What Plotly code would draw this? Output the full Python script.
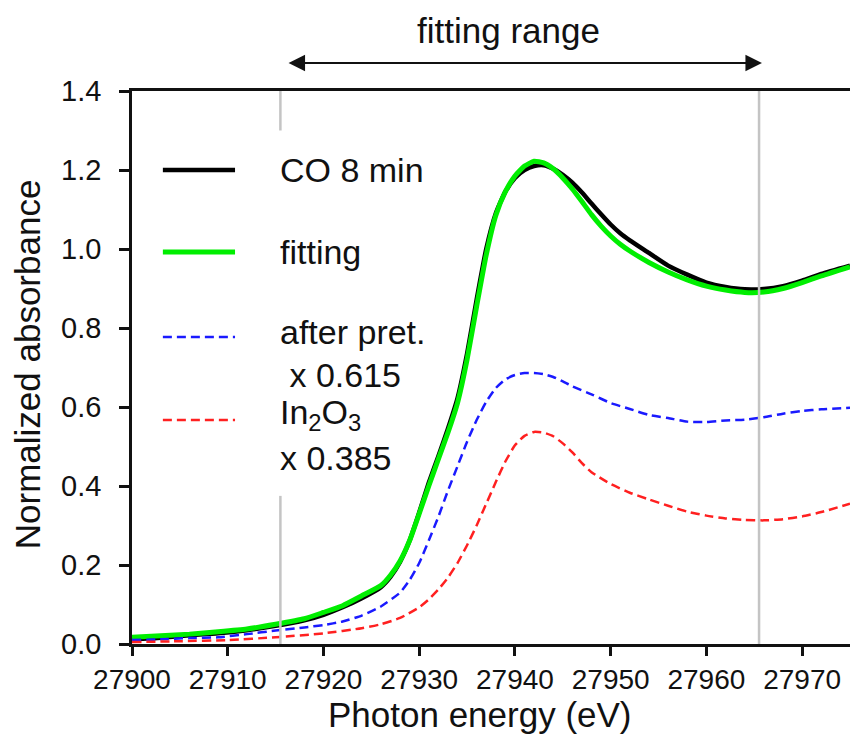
import plotly.graph_objects as go

# ---------------- data ----------------
energy_fit = [27900, 27903, 27906, 27909, 27912, 27915, 27918, 27920, 27922, 27924,
              27926, 27927, 27928, 27929, 27930, 27931, 27932, 27933, 27934, 27935,
              27936, 27937, 27938, 27939, 27940, 27941, 27942, 27943, 27944, 27945,
              27946, 27947, 27948, 27949, 27950, 27951, 27952, 27954, 27956, 27958,
              27960, 27962, 27964, 27966, 27968, 27970, 27972, 27975]

co8min = [0.012, 0.016, 0.022, 0.027, 0.035, 0.046, 0.060, 0.074, 0.093, 0.116,
          0.144, 0.170, 0.208, 0.262, 0.333, 0.408, 0.475, 0.545, 0.622, 0.735,
          0.872, 1.000, 1.090, 1.145, 1.180, 1.200, 1.210, 1.212, 1.203, 1.188,
          1.168, 1.143, 1.115, 1.088, 1.062, 1.040, 1.022, 0.990, 0.958, 0.935,
          0.915, 0.904, 0.898, 0.899, 0.906, 0.920, 0.937, 0.958]

fitting = [0.017, 0.021, 0.025, 0.031, 0.038, 0.050, 0.064, 0.080, 0.097, 0.122,
           0.148, 0.174, 0.210, 0.262, 0.330, 0.400, 0.468, 0.535, 0.610, 0.720,
           0.855, 0.985, 1.085, 1.145, 1.185, 1.210, 1.222, 1.218, 1.203, 1.180,
           1.152, 1.120, 1.087, 1.058, 1.033, 1.012, 0.995, 0.966, 0.942, 0.922,
           0.906, 0.896, 0.890, 0.891, 0.900, 0.915, 0.932, 0.955]

energy_after = [27900, 27903, 27906, 27909, 27912, 27915, 27918, 27920, 27922, 27924,
                27926, 27928, 27929, 27930, 27931, 27932, 27933, 27934, 27935, 27936,
                27937, 27938, 27939, 27940, 27941, 27942, 27943, 27944, 27945, 27946,
                27948, 27950, 27952, 27954, 27956, 27958, 27960, 27962, 27964, 27966,
                27968, 27970, 27972, 27975]
after_pret = [0.010, 0.012, 0.015, 0.017, 0.025, 0.034, 0.042, 0.048, 0.057, 0.072,
              0.095, 0.130, 0.162, 0.205, 0.262, 0.322, 0.388, 0.450, 0.512, 0.567,
              0.613, 0.648, 0.670, 0.681, 0.686, 0.686, 0.683, 0.676, 0.665, 0.652,
              0.632, 0.610, 0.595, 0.580, 0.572, 0.563, 0.562, 0.566, 0.568, 0.574,
              0.583, 0.590, 0.594, 0.598]

energy_in2o3 = [27900, 27905, 27910, 27915, 27920, 27924, 27926, 27928, 27930, 27931,
                27932, 27933, 27934, 27935, 27936, 27937, 27938, 27939, 27940, 27941,
                27942, 27943, 27944, 27945, 27946, 27947, 27948, 27950, 27952, 27954,
                27956, 27958, 27960, 27962, 27964, 27966, 27968, 27970, 27972, 27975]
in2o3 = [0.005, 0.007, 0.010, 0.017, 0.027, 0.040, 0.050, 0.066, 0.093, 0.113,
         0.138, 0.168, 0.205, 0.250, 0.300, 0.355, 0.410, 0.462, 0.503, 0.527,
         0.537, 0.535, 0.526, 0.508, 0.485, 0.458, 0.435, 0.405, 0.383, 0.366,
         0.350, 0.335, 0.325, 0.318, 0.314, 0.313, 0.316, 0.323, 0.334, 0.355]

x_ticks = [27900, 27910, 27920, 27930, 27940, 27950, 27960, 27970]
y_ticks = [0.0, 0.2, 0.4, 0.6, 0.8, 1.0, 1.2, 1.4]
fit_range = [27915.5, 27965.5]

# ---------------- figure ----------------
FONT = "Liberation Sans, Arial, sans-serif"
SM = dict(shape="spline", smoothing=0.5)
fig = go.Figure()
fig.add_trace(go.Scatter(x=energy_fit, y=co8min, mode="lines",
                         line=dict(color="black", width=4.5, **SM)))
fig.add_trace(go.Scatter(x=energy_fit, y=fitting, mode="lines",
                         line=dict(color="#00ee00", width=5, **SM)))
fig.add_trace(go.Scatter(x=energy_after, y=after_pret, mode="lines",
                         line=dict(color="#1a1aff", width=2.5, dash="9px,5px", **SM)))
fig.add_trace(go.Scatter(x=energy_in2o3, y=in2o3, mode="lines",
                         line=dict(color="#ff2020", width=2.5, dash="9px,5px", **SM)))

shapes = []
gray = "#c4c4c4"
# fitting range markers (left one interrupted by legend)
shapes.append(dict(type="line", xref="x", yref="y", x0=fit_range[0], x1=fit_range[0],
                   y0=1.30, y1=1.4, line=dict(color=gray, width=2.5), layer="above"))
shapes.append(dict(type="line", xref="x", yref="y", x0=fit_range[0], x1=fit_range[0],
                   y0=0.0, y1=0.375, line=dict(color=gray, width=2.5), layer="above"))
shapes.append(dict(type="line", xref="x", yref="y", x0=fit_range[1], x1=fit_range[1],
                   y0=0.0, y1=1.4, line=dict(color=gray, width=2.5), layer="above"))

# legend samples
legend_items = [
    ("black", 4.5, "solid", 0.857),
    ("#00ee00", 5, "solid", 0.709),
    ("#1a1aff", 2.5, "9px,5px", 0.555),
    ("#ff2020", 2.5, "9px,5px", 0.405),
]
for col, w, dash, yp in legend_items:
    shapes.append(dict(type="line", xref="paper", yref="paper", x0=0.043, x1=0.1435,
                       y0=yp, y1=yp, line=dict(color=col, width=w, dash=dash)))

annotations = []
legend_texts = [
    ("CO 8 min", 0.204, 0.857),
    ("fitting", 0.204, 0.709),
    ("after pret.", 0.204, 0.565),
    (" x 0.615", 0.204, 0.486),
    ("In<sub>2</sub>O<sub>3</sub>", 0.204, 0.415),
    ("x 0.385", 0.204, 0.336),
]
for txt, xp, yp in legend_texts:
    annotations.append(dict(text=txt, xref="paper", yref="paper", x=xp, y=yp,
                            xanchor="left", yanchor="middle", showarrow=False,
                            font=dict(family=FONT, size=34, color="#111")))

# fitting range arrow
annotations.append(dict(text="", xref="x", yref="paper", x=fit_range[1] + 0.3, y=1.0506,
                        axref="x", ayref="pixel", ax=fit_range[0] + 0.7, ay=0,
                        showarrow=True, arrowside="end+start", arrowhead=2,
                        arrowsize=1.5, arrowwidth=2.2, arrowcolor="#111",
                        standoff=0, startstandoff=0))
annotations.append(dict(text="fitting range", xref="paper", yref="paper", x=0.524, y=1.110,
                        xanchor="center", yanchor="middle", showarrow=False,
                        font=dict(family=FONT, size=35, color="#111")))
# axis titles
annotations.append(dict(text="Photon energy (eV)", xref="paper", yref="paper",
                        x=0.485, y=-0.127, xanchor="center", yanchor="middle",
                        showarrow=False, font=dict(family=FONT, size=35, color="#111")))
annotations.append(dict(text="Normalized absorbance", xref="paper", yref="paper",
                        x=-0.1455, y=0.505, xanchor="center", yanchor="middle", textangle=-90,
                        showarrow=False, font=dict(family=FONT, size=35, color="#111")))

fig.update_layout(
    width=850, height=735,
    margin=dict(l=132, r=0, t=91, b=91),
    paper_bgcolor="white", plot_bgcolor="white",
    showlegend=False,
    shapes=shapes, annotations=annotations,
    font=dict(family=FONT, color="#111"),
)
fig.update_xaxes(range=[27900, 27975], tickvals=x_ticks, tickformat="d",
                 ticks="outside", ticklen=9, tickwidth=2.5, tickcolor="#111",
                 showline=True, linecolor="#111", linewidth=2.5, mirror=True,
                 showgrid=False, zeroline=False, ticklabelstandoff=0,
                 tickfont=dict(family=FONT, size=28, color="#111"))
fig.update_yaxes(range=[0, 1.4], tickvals=y_ticks, tickformat=".1f",
                 ticks="outside", ticklen=10, tickwidth=2.5, tickcolor="#111",
                 showline=True, linecolor="#111", linewidth=2.5,
                 showgrid=False, zeroline=False, ticklabelstandoff=12,
                 tickfont=dict(family=FONT, size=29, color="#111"))

fig.write_html("out.html")
